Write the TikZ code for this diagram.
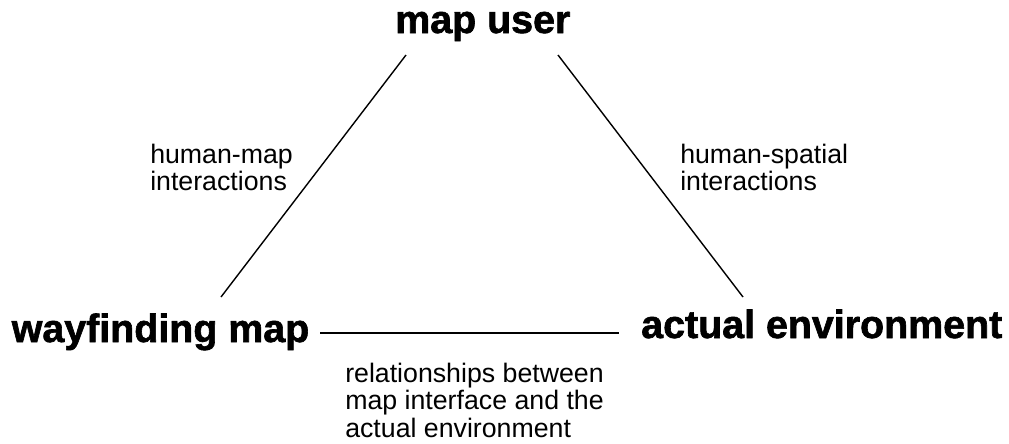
\documentclass[tikz,border=0pt]{standalone}
\usepackage{fontspec}
\setmainfont{Liberation Sans}
\newfontfamily\heavyfont[FakeBold=1.6]{Liberation Sans Bold}
\usetikzlibrary{positioning}

\tikzset{
  party/.style={anchor=base west,inner sep=0pt,font=\fontsize{28}{30}\selectfont\heavyfont},
  relation/.style={anchor=north west,inner sep=0pt,align=left,font=\fontsize{19}{19.8}\selectfont},
  link/.style={line width=1pt,black}
}

\begin{document}
\begin{tikzpicture}[x=0.025cm,y=-0.025cm]
   \useasboundingbox (0,0) rectangle (1009,443);
   % the three parties
   \node[party] (user) at (395,33) {map user};
   \node[party] (wfmap) at (11.5,342) {wayfinding map};
   \node[party] (env) at (641,338) {actual environment};
   % ends of the links
   \coordinate (u1) at (406,55);
   \coordinate (u2) at (558,55);
   \coordinate (m1) at (221,297);
   \coordinate (m2) at (320,333);
   \coordinate (e1) at (743,297);
   \coordinate (e2) at (619,333);
   \draw[link] (u1) -- (m1);
   \draw[link] (u2) -- (e1);
   \draw[link] (m2) -- (e2);
   % what each link stands for
   \node[relation] (hm) at (150,143.5) {human-map\\interactions};
   \node[relation] (hs) at (680,143.5) {human-spatial\\interactions};
   \node[relation] (rel) at (345,362.5) {relationships between\\map interface and the\\actual environment};
\end{tikzpicture}
\end{document}
